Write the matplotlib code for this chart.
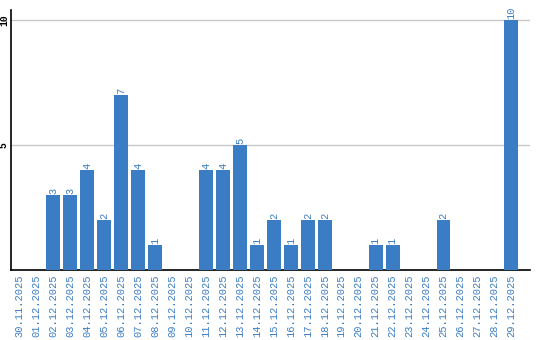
import matplotlib
matplotlib.use('Agg')
import matplotlib.pyplot as plt

dates = ['30.11.2025', '01.12.2025', '02.12.2025', '03.12.2025', '04.12.2025',
         '05.12.2025', '06.12.2025', '07.12.2025', '08.12.2025', '09.12.2025',
         '10.12.2025', '11.12.2025', '12.12.2025', '13.12.2025', '14.12.2025',
         '15.12.2025', '16.12.2025', '17.12.2025', '18.12.2025', '19.12.2025',
         '20.12.2025', '21.12.2025', '22.12.2025', '23.12.2025', '24.12.2025',
         '25.12.2025', '26.12.2025', '27.12.2025', '28.12.2025', '29.12.2025']
counts = [0, 0, 3, 3, 4, 2, 7, 4, 1, 0,
          0, 4, 4, 5, 1, 2, 1, 2, 2, 0,
          0, 1, 1, 0, 0, 2, 0, 0, 0, 10]
yticks = [5, 10]

blue = '#3b7dc4'
mono = 'Liberation Mono'

fig = plt.figure(figsize=(5.4, 3.4), dpi=100)
ax = fig.add_axes([11/540, 70/340, 519/540, 260/340])

x = range(len(dates))
ax.bar(x, counts, width=0.82, color=blue, zorder=3)

for i, v in enumerate(counts):
    if v > 0:
        ax.annotate(str(v), (i, v), xytext=(0, 1), textcoords='offset points',
                    rotation=90, ha='center', va='bottom', color=blue,
                    fontsize=7.5, family=mono)

ax.set_xlim(-0.5, 30.1)
ax.set_ylim(0, 10.4)
ax.set_xticks(list(x))
ax.set_xticklabels(dates, rotation=90, color=blue, fontsize=7.5, family=mono)
ax.set_yticks(yticks)
ax.set_yticklabels([str(t) for t in yticks], rotation=90, fontsize=7,
                   family=mono, weight='bold', va='center')
ax.tick_params(axis='both', length=0, pad=3)
ax.tick_params(axis='y', pad=1.5)

ax.grid(axis='y', color='#c8c8c8', linewidth=1, zorder=0)
for s in ['top', 'right']:
    ax.spines[s].set_visible(False)
ax.spines['left'].set_color('black')
ax.spines['bottom'].set_color('black')
ax.spines['left'].set_linewidth(1.2)
ax.spines['bottom'].set_linewidth(1.2)

fig.savefig('out.png', dpi=100)
